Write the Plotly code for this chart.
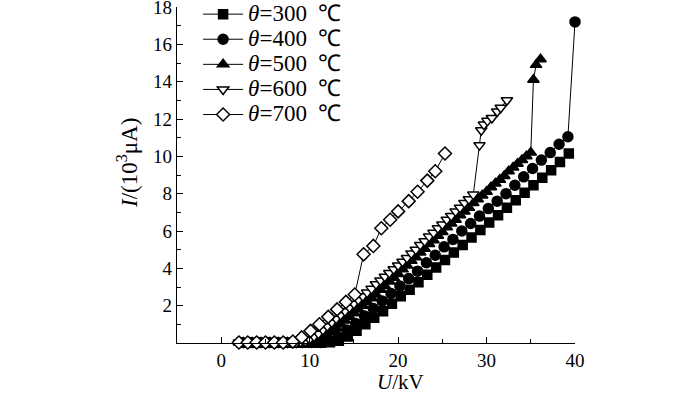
import plotly.graph_objects as go

# ---- data ----
x300 = [2.3, 3.3, 4.3, 5.3, 6.3, 7.3, 8.3, 9.3, 10.3, 11.3, 12.3, 13.3, 14.3, 15.3, 16.3,
        17.3, 18.3, 19.3, 20.3, 21.3, 22.3, 23.3, 24.3, 25.3, 26.3, 27.3, 28.3, 29.3,
        30.3, 31.3, 32.3, 33.3, 34.3, 35.3, 36.3, 37.3, 38.3, 39.3]
y300 = [0.02, 0.02, 0.02, 0.02, 0.02, 0.02, 0.02, 0.02, 0.02, 0.02, 0.04, 0.12, 0.35, 0.65, 1.0,
        1.35, 1.7, 2.1, 2.5, 2.85, 3.25, 3.65, 4.05, 4.45, 4.85, 5.25, 5.65, 6.05,
        6.45, 6.85, 7.25, 7.65, 8.05, 8.45, 8.85, 9.25, 9.7, 10.15]

x400 = [2.2, 3.2, 4.2, 5.2, 6.2, 7.2, 8.2, 9.2, 10.2, 11.2, 12.2, 13.2, 14.2, 15.2, 16.2,
        17.2, 18.2, 19.2, 20.2, 21.2, 22.2, 23.2, 24.2, 25.2, 26.2, 27.2, 28.2, 29.2,
        30.2, 31.2, 32.2, 33.2, 34.2, 35.2, 36.2, 37.2, 38.2, 39.2, 40.0]
y400 = [0.03, 0.03, 0.03, 0.03, 0.03, 0.03, 0.03, 0.03, 0.03, 0.03, 0.1, 0.35, 0.7, 1.05, 1.45,
        1.85, 2.25, 2.65, 3.05, 3.45, 3.85, 4.3, 4.7, 5.15, 5.55, 6.0, 6.4, 6.8,
        7.2, 7.6, 8.0, 8.45, 8.9, 9.35, 9.8, 10.2, 10.65, 11.05, 17.2]

x500 = [2.0, 2.5, 3.0, 3.5, 4.0, 4.5, 5.0, 5.5, 6.0, 6.5, 7.0, 7.5, 8.0, 8.5, 9.0, 9.5, 10.0, 10.5,
        11.0, 11.5, 12.0, 12.5, 13.0, 13.5, 14.0, 14.5, 15.0, 15.5, 16.0, 16.5, 17.0, 17.5,
        18.0, 18.5, 19.0, 19.5, 20.0, 20.5, 21.0, 21.5, 22.0, 22.5, 23.0, 23.5, 24.0, 24.5,
        25.0, 25.5, 26.0, 26.5, 27.0, 27.5, 28.0, 28.5, 29.0, 29.5, 30.0, 30.5, 31.0, 31.5,
        32.0, 32.5, 33.0, 33.5, 34.0, 34.5, 35.0, 35.3, 35.6, 36.1]
y500 = [0.03, 0.03, 0.03, 0.03, 0.03, 0.03, 0.03, 0.03, 0.03, 0.03, 0.03, 0.03, 0.03, 0.03, 0.03, 0.03, 0.03, 0.05,
        0.1, 0.25, 0.4, 0.6, 0.8, 1.0, 1.2, 1.4, 1.6, 1.8, 2.0, 2.2, 2.4, 2.6,
        2.85, 3.05, 3.3, 3.5, 3.7, 3.95, 4.15, 4.4, 4.6, 4.85, 5.05, 5.3, 5.5, 5.75,
        5.95, 6.2, 6.4, 6.6, 6.85, 7.05, 7.25, 7.5, 7.7, 7.9, 8.1, 8.35, 8.55, 8.75,
        8.95, 9.2, 9.4, 9.6, 9.8, 10.0, 10.2, 14.1, 14.9, 15.2]

x600 = [2.0, 2.5, 3.0, 3.5, 4.0, 4.5, 5.0, 5.5, 6.0, 6.5, 7.0, 7.5, 8.0, 8.5, 9.0, 9.5,
        10.0, 10.5, 11.0, 11.5, 12.0, 12.5, 13.0, 13.5, 14.0, 14.5, 15.0, 15.5, 16.0, 16.5,
        17.0, 17.5, 18.0, 18.5, 19.0, 19.5, 20.0, 20.5, 21.0, 21.5, 22.0, 22.5, 23.0, 23.5,
        24.0, 24.5, 25.0, 25.5, 26.0, 26.5, 27.0, 27.5, 28.0, 28.5,
        29.2, 29.4, 29.7, 30.1, 30.6, 31.2, 31.6, 32.3]
y600 = [0.03, 0.03, 0.03, 0.03, 0.03, 0.03, 0.03, 0.03, 0.03, 0.03, 0.03, 0.03, 0.03, 0.03, 0.05, 0.1,
        0.2, 0.35, 0.5, 0.7, 0.9, 1.1, 1.3, 1.5, 1.7, 1.9, 2.1, 2.3, 2.5, 2.7,
        2.9, 3.15, 3.35, 3.55, 3.75, 3.95, 4.15, 4.35, 4.55, 4.8, 5.0, 5.25, 5.45, 5.7,
        5.9, 6.15, 6.35, 6.6, 6.8, 7.05, 7.25, 7.5, 7.7, 7.95,
        10.6, 11.4, 11.7, 11.9, 12.05, 12.4, 12.6, 13.0]

x700 = [2.0, 3.0, 4.0, 5.0, 6.0, 7.0, 8.1, 9.1, 10.1, 11.1, 12.1, 13.1, 14.1, 15.1,
        16.1, 17.2, 18.1, 19.1, 20.0, 21.2, 22.2, 23.3, 24.2, 25.3]
y700 = [0.03, 0.03, 0.03, 0.03, 0.03, 0.03, 0.08, 0.3, 0.65, 1.0, 1.4, 1.8, 2.2, 2.6,
        4.75, 5.2, 6.15, 6.6, 7.05, 7.6, 8.1, 8.7, 9.2, 10.15]

labels = ["<i>θ</i>=300&nbsp; ℃", "<i>θ</i>=400&nbsp; ℃", "<i>θ</i>=500&nbsp; ℃",
          "<i>θ</i>=600&nbsp; ℃", "<i>θ</i>=700&nbsp; ℃"]
xticks = [0, 10, 20, 30, 40]
yticks = [2, 4, 6, 8, 10, 12, 14, 16, 18]

FONT = "Liberation Serif"
BIG = 23
TICK = 19

series = [
    (x300, y300, "square", "black", 9),
    (x400, y400, "circle", "black", 10),
    (x500, y500, "triangle-up", "black", 10),
    (x600, y600, "triangle-down", "white", 10),
    (x700, y700, "diamond", "white", 10),
]

fig = go.Figure()
for (xs, ys, sym, fill, sz), name in zip(series, labels):
    fig.add_trace(go.Scatter(
        x=xs, y=ys, mode="lines+markers", cliponaxis=False,
        name="<span style='font-size:%dpx'>%s</span>" % (BIG, name),
        line=dict(color="black", width=1),
        marker=dict(symbol=sym, size=sz, color=fill, line=dict(color="black", width=1.5)),
    ))

fig.update_layout(
    width=700, height=394,
    margin=dict(l=177, r=125, t=7, b=51, autoexpand=False),
    paper_bgcolor="white", plot_bgcolor="white",
    font=dict(family=FONT, size=17, color="black"),
    showlegend=True,
    legend=dict(x=0.053, y=1.031, xanchor="left", yanchor="top",
                bgcolor="rgba(0,0,0,0)", font=dict(family=FONT, size=17),
                tracegroupgap=0, itemwidth=40),
    xaxis=dict(range=[-5, 40], showline=True, linecolor="black", linewidth=1.2,
               tickmode="array", tickvals=xticks, ticktext=[str(v) for v in xticks],
               ticks="inside", ticklen=6, tickcolor="black", showgrid=False, zeroline=False,
               minor=dict(tickvals=[5, 15, 25, 35], ticks="inside", ticklen=4, tickcolor="black"),
               tickfont=dict(family=FONT, size=TICK), ticklabeloverflow="allow"),
    yaxis=dict(range=[0, 18], showline=True, linecolor="black", linewidth=1.2,
               tickmode="array", tickvals=yticks, ticktext=[str(v) for v in yticks],
               ticks="inside", ticklen=6, tickcolor="black", showgrid=False, zeroline=False,
               minor=dict(tickvals=[1, 3, 5, 7, 9, 11, 13, 15, 17], ticks="inside", ticklen=4,
                          tickcolor="black"),
               tickfont=dict(family=FONT, size=TICK), ticklabeloverflow="allow"),
)

fig.add_annotation(text="<i>U</i>/kV", xref="paper", yref="paper", x=(400 - 177) / 398,
                   y=(343 - 382) / 336, xanchor="center", yanchor="middle", showarrow=False,
                   font=dict(family=FONT, size=21))
fig.add_annotation(text="<i>I</i>/(10<sup>3</sup>μA)", xref="paper", yref="paper",
                   x=(127 - 177) / 398, y=(343 - 163) / 336, textangle=-90,
                   xanchor="center", yanchor="middle", showarrow=False,
                   font=dict(family=FONT, size=BIG))

fig.write_html("out.html", config={"displayModeBar": False},
               post_script="document.body.style.margin='0px';document.body.style.overflow='hidden';")
